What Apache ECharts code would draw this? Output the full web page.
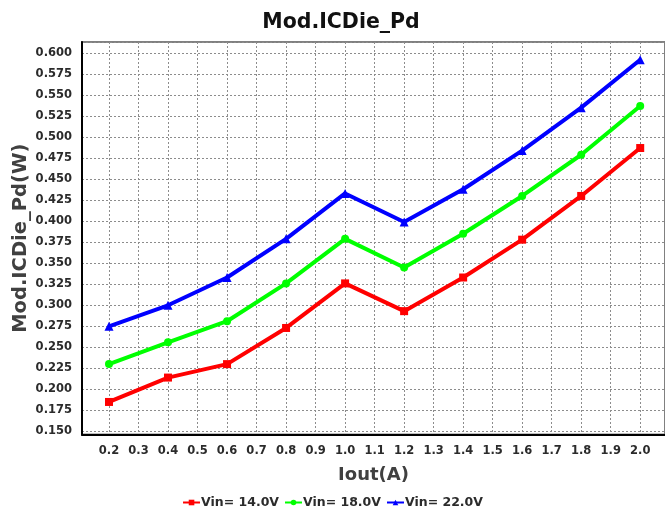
<!DOCTYPE html>
<html>
<head>
<meta charset="utf-8">
<script src="https://cdn.jsdelivr.net/npm/echarts@6/dist/echarts.min.js"></script>
<style>
  html, body { margin: 0; padding: 0; background: #fff; }
  #chart { width: 665px; height: 511px; }
</style>
</head>
<body>
<div id="chart"></div>
<script>
// Output current (A) at which the die power was measured
const iout = [0.2, 0.4, 0.6, 0.8, 1.0, 1.2, 1.4, 1.6, 1.8, 2.0];

// Die power dissipation (W) per input voltage
const vin14 = [0.185, 0.214, 0.230, 0.273, 0.326, 0.293, 0.333, 0.378, 0.430, 0.487];
const vin18 = [0.230, 0.256, 0.281, 0.326, 0.379, 0.345, 0.385, 0.430, 0.479, 0.537];
const vin22 = [0.275, 0.300, 0.333, 0.379, 0.433, 0.399, 0.438, 0.484, 0.535, 0.592];

const seriesNames = ['Vin= 14.0V', 'Vin= 18.0V', 'Vin= 22.0V'];
const seriesColors = ['#ff0000', '#00ff00', '#0000ff'];
const seriesSymbols = ['rect', 'circle', 'triangle'];
const seriesValues = [vin14, vin18, vin22];

const FONT = '"DejaVu Sans", sans-serif';

const chart = echarts.init(document.getElementById('chart'), null, { renderer: 'canvas' });

chart.setOption({
  animation: false,
  backgroundColor: '#ffffff',
  title: {
    text: 'Mod.ICDie_Pd',
    left: 336,
    top: 7,
    textAlign: 'center',
    textStyle: { fontFamily: FONT, fontWeight: 'bold', fontSize: 20.5, color: '#111111' }
  },
  legend: {
    top: 491,
    left: 'center',
    itemWidth: 17,
    itemHeight: 7,
    itemGap: 5,
    textStyle: { fontFamily: FONT, fontWeight: 'bold', fontSize: 12.5, color: '#2b2b2b', padding: [0, 0, 0, -4] },
    data: seriesNames
  },
  grid: {
    left: 82,
    top: 42,
    right: 0,
    bottom: 76.5,
    outerBoundsMode: 'none',
    containLabel: false,
    show: true,
    borderColor: '#808080',
    borderWidth: 2
  },
  xAxis: {
    type: 'value',
    min: 0.1085,
    max: 2.084,
    minInterval: 0.1,
    maxInterval: 0.1,
    name: 'Iout(A)',
    nameLocation: 'middle',
    nameGap: 32,
    nameTextStyle: { fontFamily: FONT, fontWeight: 'bold', fontSize: 18, color: '#404040' },
    axisLine: { show: true, lineStyle: { color: '#000000', width: 2 } },
    axisTick: { show: false },
    axisLabel: {
      showMinLabel: false,
      showMaxLabel: false,
      margin: 11,
      fontFamily: FONT, fontWeight: 'bold', fontSize: 11.5, color: '#2b2b2b',
      formatter: v => v.toFixed(1)
    },
    splitLine: { show: true, lineStyle: { color: '#8c8c8c', width: 1, type: [2, 2] } }
  },
  yAxis: {
    type: 'value',
    min: 0.1463,
    max: 0.6131,
    minInterval: 0.025,
    maxInterval: 0.025,
    name: 'Mod.ICDie_Pd(W)',
    nameLocation: 'middle',
    nameGap: 51,
    nameMoveOverlap: false,
    nameTextStyle: { fontFamily: FONT, fontWeight: 'bold', fontSize: 19.5, color: '#404040' },
    axisLine: { show: true, lineStyle: { color: '#000000', width: 2 } },
    axisTick: { show: false },
    axisLabel: {
      showMinLabel: false,
      showMaxLabel: false,
      margin: 10,
      fontFamily: FONT, fontWeight: 'bold', fontSize: 11.5, color: '#2b2b2b',
      formatter: v => v.toFixed(3)
    },
    splitLine: { show: true, lineStyle: { color: '#8c8c8c', width: 1, type: [2, 2] } }
  },
  series: seriesNames.map((name, i) => ({
    name: name,
    type: 'line',
    data: iout.map((x, k) => [x, seriesValues[i][k]]),
    symbol: seriesSymbols[i],
    symbolSize: seriesSymbols[i] === 'triangle' ? 9 : 8,
    showAllSymbol: true,
    color: seriesColors[i],
    lineStyle: { color: seriesColors[i], width: 4 },
    itemStyle: { color: seriesColors[i] }
  }))
});
</script>
</body>
</html>
